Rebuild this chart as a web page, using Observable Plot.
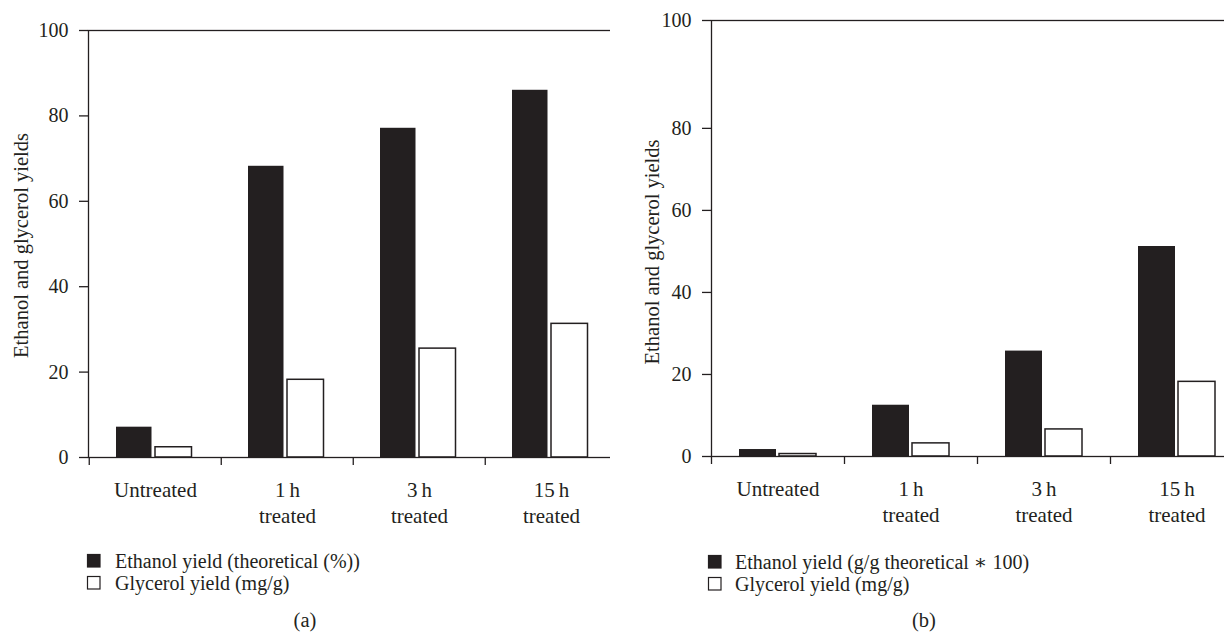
<!DOCTYPE html>
<html>
<head>
<meta charset="utf-8">
<script src="https://cdn.jsdelivr.net/npm/d3@7"></script>
<script src="https://cdn.jsdelivr.net/npm/@observablehq/plot@0.6"></script>
<style>
  html, body { margin: 0; padding: 0; background: #fff; overflow: hidden; width: 1224px; height: 635px; }
  body { position: relative; font-family: "Liberation Serif", "DejaVu Serif", serif; color: #231f20; }
  .panel { position: absolute; top: 0; }
  #overlay { position: absolute; left: 0; top: 0; pointer-events: none; }
</style>
</head>
<body>
<div id="panelA" class="panel" style="left:0px; width:622px;"></div>
<div id="panelB" class="panel" style="left:610px; width:638px;"></div>
<svg id="overlay" width="1224" height="635"></svg>
<script>
// ---------- data ----------
const categories = ["Untreated", "1 h treated", "3 h treated", "15 h treated"];
const xTickLabels = ["Untreated", "1\u2009h\ntreated", "3\u2009h\ntreated", "15\u2009h\ntreated"];

const ethanolA = [7.1, 68.2, 77.1, 86.0];
const glycerolA = [2.4, 18.2, 25.5, 31.3];
const yTicksA = [0, 20, 40, 60, 80, 100];
const yTickLabelsA = ["0", "20", "40", "60", "80", "100"];

const ethanolB = [1.7, 12.5, 25.7, 51.2];
const glycerolB = [0.6, 3.2, 6.6, 18.2];
// the top tick of panel (b) sits above the linear position of 100 in the original figure
const yTicksB = [0, 20, 40, 60, 80, 106.3];
const yTickLabelsB = ["0", "20", "40", "60", "80", "100"];

const yTitle = "Ethanol and glycerol yields";
const legendA = ["Ethanol yield (theoretical (%))", "Glycerol yield (mg/g)"];
const legendB = ["Ethanol yield (g/g theoretical \u2217 100)", "Glycerol yield (mg/g)"];
const captions = ["(a)", "(b)"];

const ink = "#231f20";
const font = '"Liberation Serif", "DejaVu Serif", serif';

function panel(o) {
  const data = categories.map((c, i) => ({cat: c, ethanol: o.ethanol[i], glycerol: o.glycerol[i]}));
  const bw = (o.width - o.marginLeft - o.marginRight) / categories.length;
  return Plot.plot({
    width: o.width,
    height: o.height,
    marginLeft: o.marginLeft,
    marginRight: o.marginRight,
    marginTop: o.marginTop,
    marginBottom: o.marginBottom,
    style: {fontFamily: font, fontSize: "20px", color: ink, background: "white", overflow: "visible"},
    x: {domain: categories, padding: 0, axis: null},
    y: {domain: o.yDomain, axis: null},
    marks: [
      Plot.barY(data, {x: "cat", y: "ethanol", fill: ink, insetLeft: o.insE[0], insetRight: o.insE[1]}),
      Plot.barY(data, {x: "cat", y: "glycerol", fill: "white", stroke: ink, strokeWidth: 1.5, insetLeft: o.insG[0], insetRight: o.insG[1]}),
      Plot.frame({stroke: ink, strokeWidth: 1.3}),
      Plot.axisY({ticks: o.yTicks, tickFormat: d => o.yTickLabels[o.yTicks.indexOf(d)], tickSize: 9, tickPadding: 11, fontSize: 20, strokeWidth: 1.3, label: null}),
      Plot.axisX({tickSize: 0, tickPadding: 21, tickFormat: d => xTickLabels[categories.indexOf(d)], fontSize: 21, lineHeight: 1.24, label: null}),
      Plot.axisX({tickSize: 8, tickFormat: () => "", dx: -bw / 2, strokeWidth: 1.3, label: null}),
      Plot.axisX({ticks: [categories[categories.length - 1]], tickSize: 8, tickFormat: () => "", dx: bw / 2, strokeWidth: 1.3, label: null}),
      Plot.text([yTitle], {text: d => d, frameAnchor: "left", textAnchor: "middle", rotate: -90, dx: o.titleDx, dy: o.titleDy, fontSize: 20.5, fill: ink})
    ]
  });
}

document.getElementById("panelA").append(panel({
  ethanol: ethanolA, glycerol: glycerolA, yDomain: [0, 100], yTicks: yTicksA, yTickLabels: yTickLabelsA,
  width: 622, height: 530, marginLeft: 88, marginRight: 4, marginTop: 30, marginBottom: 73,
  insE: [27, 69.5], insG: [66, 29.5], titleDx: -67, titleDy: 1.5
}));

document.getElementById("panelB").append(panel({
  ethanol: ethanolB, glycerol: glycerolB, yDomain: [0, 106.3], yTicks: yTicksB, yTickLabels: yTickLabelsB,
  width: 638, height: 530, marginLeft: 101, marginRight: 5, marginTop: 20, marginBottom: 74,
  insE: [28, 68], insG: [68, 28], titleDx: -59, titleDy: 13.5
}));

// ---------- legends and captions ----------
const svg = d3.select("#overlay");
function legend(items, xSq, xText, yTop) {
  const g = svg.append("g");
  items.forEach((t, i) => {
    const y = yTop + i * 22;
    g.append("rect").attr("x", xSq + 0.5).attr("y", y + 0.5).attr("width", 12.5).attr("height", 12.5)
      .attr("fill", i === 0 ? ink : "white").attr("stroke", ink).attr("stroke-width", 1.2);
    g.append("text").attr("x", xText).attr("y", y + 13.5).text(t)
      .attr("font-family", font).attr("font-size", 20).attr("fill", ink);
  });
}
legend(legendA, 87, 115, 554);
legend(legendB, 708, 735, 555);

svg.selectAll("text.cap").data(captions).join("text").attr("class", "cap")
  .attr("x", (d, i) => i === 0 ? 305 : 924).attr("y", 627)
  .attr("text-anchor", "middle").attr("font-family", font).attr("font-size", 20.5).attr("fill", ink)
  .text(d => d);
</script>
</body>
</html>
